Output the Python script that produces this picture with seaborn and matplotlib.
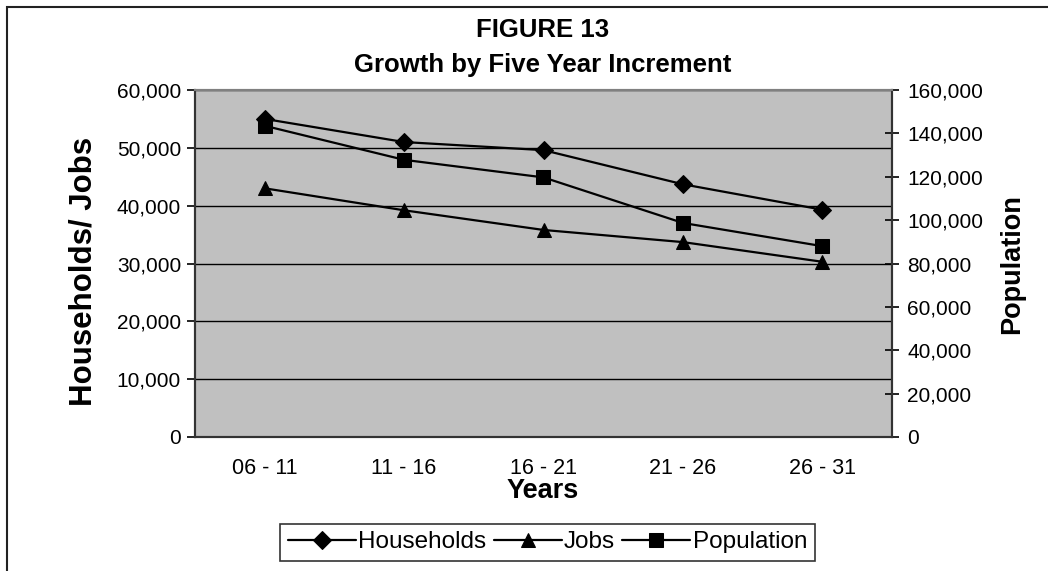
import matplotlib
matplotlib.use("Agg")
import matplotlib.pyplot as plt
import matplotlib.ticker as mticker
from matplotlib.patches import Rectangle
import seaborn as sns
import pandas as pd

periods = ["06 - 11", "11 - 16", "16 - 21", "21 - 26", "26 - 31"]
households = [55000, 51000, 49600, 43700, 39300]
jobs = [43000, 39200, 35800, 33700, 30300]
population = [143500, 127800, 119700, 98700, 88000]

left_ticks = [0, 10000, 20000, 30000, 40000, 50000, 60000]
right_ticks = [0, 20000, 40000, 60000, 80000, 100000, 120000, 140000, 160000]

sns.set_theme(style="white")
plt.rcParams["font.family"] = ["Liberation Sans", "DejaVu Sans"]

W, H = 1048, 571
fig = plt.figure(figsize=(W / 100, H / 100), dpi=100)
fig.patch.set_facecolor("white")

# outer chart border (extends past right/bottom edge as in the reference)
fig.patches.append(Rectangle((7 / W, -0.1), 1.2, 1 - 7 / H + 0.1, transform=fig.transFigure,
                             fill=False, edgecolor="#222222", linewidth=1.5, zorder=0))

x0, x1, yt, yb = 195, 892, 90, 437
ax = fig.add_axes([x0 / W, (H - yb) / H, (x1 - x0) / W, (yb - yt) / H])
ax.set_facecolor("#C0C0C0")

df = pd.DataFrame({"Years": periods, "Households": households, "Jobs": jobs,
                   "Population": population})

lw = 1.6
sns.lineplot(data=df, x="Years", y="Households", ax=ax, color="black", marker="D",
             markersize=9, linewidth=lw, markeredgecolor="black", sort=False,
             label="Households", legend=False, zorder=5)
sns.lineplot(data=df, x="Years", y="Jobs", ax=ax, color="black", marker="^",
             markersize=10.5, linewidth=lw, markeredgecolor="black", sort=False,
             label="Jobs", legend=False, zorder=5)

ax2 = ax.twinx()
sns.lineplot(data=df, x="Years", y="Population", ax=ax2, color="black", marker="s",
             markersize=9.5, linewidth=lw, markeredgecolor="black", sort=False,
             label="Population", legend=False, zorder=5)

ax.set_ylim(0, 60000)
ax2.set_ylim(0, 160000)
ax.set_xlim(-0.5, 4.5)

ax.set_yticks(left_ticks)
ax2.set_yticks(right_ticks)
fmt = mticker.FuncFormatter(lambda v, p: f"{int(v):,}")
ax.yaxis.set_major_formatter(fmt)
ax2.yaxis.set_major_formatter(fmt)

ax.set_xticks(range(len(periods)))
ax.set_xticklabels(periods)
ax.set_xticks([i - 0.5 for i in range(len(periods) + 1)], minor=True)
ax.tick_params(axis="x", which="major", length=0, pad=15, labelsize=15.5, colors="black")
ax.tick_params(axis="x", which="minor", length=6, width=1.2, direction="out", color="#333333")
ax.tick_params(axis="y", which="major", length=6, width=1.2, direction="out", pad=4,
               labelsize=15, colors="black", left=True)
ax2.tick_params(axis="y", which="major", length=10, width=1.2, direction="inout", pad=6,
                labelsize=15, colors="black", right=True)

ax.grid(axis="y", color="black", linewidth=1.0)
ax.set_axisbelow(True)
ax.set_zorder(ax2.get_zorder() - 1)
ax2.patch.set_visible(False)
ax.patch.set_visible(True)

for a in (ax, ax2):
    for s in ("left", "right", "bottom"):
        a.spines[s].set_color("#333333")
        a.spines[s].set_linewidth(1.5)
    a.spines["top"].set_color("#808080")
    a.spines["top"].set_linewidth(1.5)

ax.set_xlabel("Years", fontsize=19.5, fontweight="bold", color="black")
ax.xaxis.set_label_coords((543 - x0) / (x1 - x0), (yb - 491) / (yb - yt))
ax.xaxis.label.set_va("center")
ax.set_ylabel("Households/ Jobs", fontsize=22.5, fontweight="bold", color="black")
ax.yaxis.label.set_va("center")
ax.yaxis.set_label_coords((83 - x0) / (x1 - x0), (yb - 271) / (yb - yt))
ax2.set_ylabel("Population", fontsize=19.5, fontweight="bold", color="black", rotation=90)
ax2.yaxis.label.set_va("center")
ax2.yaxis.set_label_coords((1012 - x0) / (x1 - x0), (yb - 264) / (yb - yt))

fig.text(543 / W, 1 - 30 / H, "FIGURE 13", ha="center", va="center", fontsize=18.5,
         fontweight="bold", color="black")
fig.text(543 / W, 1 - 65 / H, "Growth by Five Year Increment", ha="center", va="center",
         fontsize=18.5, fontweight="bold", color="black")

h1, l1 = ax.get_legend_handles_labels()
h2, l2 = ax2.get_legend_handles_labels()
leg = fig.legend(h1 + h2, l1 + l2, loc="upper center", bbox_to_anchor=(547.5 / W, 1 - 524 / H),
                 ncol=3, frameon=True, fancybox=False, edgecolor="black", fontsize=17.5,
                 handlelength=2.8, handletextpad=0.1, columnspacing=0.3, borderpad=0.3,
                 borderaxespad=0)
leg.get_frame().set_linewidth(1.2)
for t in leg.get_texts():
    t.set_color("black")

fig.savefig("out.png", dpi=100)
